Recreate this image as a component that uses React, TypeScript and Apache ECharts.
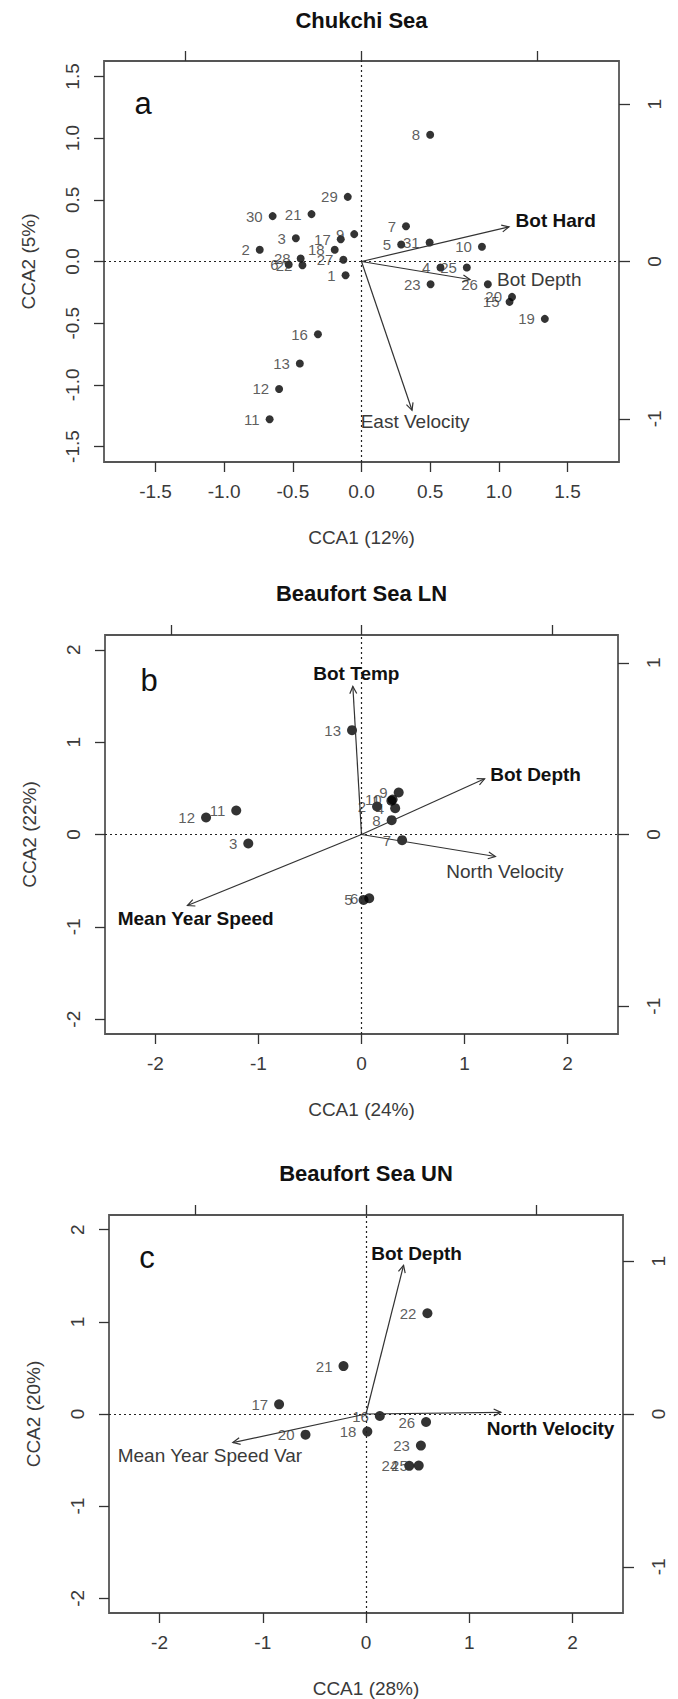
import React, { useEffect, useRef } from 'react';
import * as echarts from 'echarts';

// ---------- Panel a: Chukchi Sea ----------
const A_IDS = ['8', '29', '30', '21', '7', '3', '17', '9', '5', '31', '10', '2', '18', '28', '27', '6', '22', '1', '4', '25', '23', '26', '20', '15', '19', '16', '13', '12', '11'];
const A_X = [0.50, -0.10, -0.647, -0.364, 0.324, -0.478, -0.151, -0.053, 0.289, 0.496, 0.877, -0.741, -0.195, -0.443, -0.132, -0.53, -0.43, -0.116, 0.575, 0.767, 0.503, 0.920, 1.096, 1.078, 1.335, -0.317, -0.449, -0.600, -0.669];
const A_Y = [1.027, 0.524, 0.368, 0.384, 0.286, 0.189, 0.181, 0.222, 0.138, 0.154, 0.119, 0.095, 0.095, 0.024, 0.014, -0.025, -0.03, -0.111, -0.049, -0.049, -0.184, -0.184, -0.287, -0.327, -0.465, -0.590, -0.827, -1.033, -1.279];
const A_VARS = ['Bot Hard', 'Bot Depth', 'East Velocity'];
const A_VX = [1.074, 0.79, 0.368];
const A_VY = [0.281, -0.146, -1.206];
const A_VBOLD = [true, false, false];
const A_LX = [1.414, 1.294, 0.39];
const A_LY = [0.335, -0.146, -1.293];
const A_XTICKS = [-1.5, -1.0, -0.5, 0, 0.5, 1.0, 1.5];
const A_YTICKS = [-1.5, -1.0, -0.5, 0, 0.5, 1.0, 1.5];

// ---------- Panel b: Beaufort Sea LN ----------
const B_IDS = ['13', '12', '11', '3', '9', '1', '10', '2', '4', '8', '7', '5', '6'];
const B_X = [-0.092, -1.509, -1.216, -1.099, 0.361, 0.29, 0.302, 0.151, 0.327, 0.293, 0.394, 0.02, 0.075];
const B_Y = [1.130, 0.184, 0.260, -0.097, 0.455, 0.365, 0.379, 0.303, 0.285, 0.155, -0.061, -0.708, -0.69];
const B_VARS = ['Bot Temp', 'Bot Depth', 'North Velocity', 'Mean Year Speed'];
const B_VX = [-0.084, 1.195, 1.30, -1.69];
const B_VY = [1.603, 0.603, -0.238, -0.769];
const B_VBOLD = [true, true, false, true];
const B_LX = [-0.05, 1.69, 1.392, -1.61];
const B_LY = [1.747, 0.646, -0.397, -0.914];
const B_XTICKS = [-2, -1, 0, 1, 2];
const B_YTICKS = [-2, -1, 0, 1, 2];

// ---------- Panel c: Beaufort Sea UN ----------
const C_IDS = ['22', '21', '17', '16', '26', '18', '20', '23', '24', '25'];
const C_X = [0.595, -0.218, -0.842, 0.134, 0.582, 0.013, -0.586, 0.532, 0.419, 0.511];
const C_Y = [1.094, 0.520, 0.105, -0.022, -0.087, -0.191, -0.224, -0.343, -0.563, -0.560];
const C_VARS = ['Bot Depth', 'North Velocity', 'Mean Year Speed Var'];
const C_VX = [0.364, 1.307, -1.29];
const C_VY = [1.614, 0.018, -0.31];
const C_VBOLD = [true, true, false];
const C_LX = [0.49, 1.788, -1.512];
const C_LY = [1.74, -0.159, -0.455];
const C_XTICKS = [-2, -1, 0, 1, 2];
const C_YTICKS = [-2, -1, 0, 1, 2];

const ARROW_TICKS = [-1, 0, 1];

const FONT = '"Liberation Sans", Arial, sans-serif';

const PANELS = [
  {
    title: 'Chukchi Sea', letter: 'a', xName: 'CCA1 (12%)', yName: 'CCA2 (5%)',
    ids: A_IDS, xs: A_X, ys: A_Y, vars: A_VARS, vx: A_VX, vy: A_VY, vb: A_VBOLD, lx: A_LX, ly: A_LY,
    xticks: A_XTICKS, yticks: A_YTICKS, dec: 1,
    grid: { left: 104, top: 61, width: 515, height: 401 },
    xr: 1.875, yr: 1.625, topR: 1.463, rightR: 1.274,
    titleY: 20, letterX: 143, letterY: 103, sym: 8,
  },
  {
    title: 'Beaufort Sea LN', letter: 'b', xName: 'CCA1 (24%)', yName: 'CCA2 (22%)',
    ids: B_IDS, xs: B_X, ys: B_Y, vars: B_VARS, vx: B_VX, vy: B_VY, vb: B_VBOLD, lx: B_LX, ly: B_LY,
    xticks: B_XTICKS, yticks: B_YTICKS, dec: 0,
    grid: { left: 105, top: 635, width: 513, height: 399 },
    xr: 2.49, yr: 2.16, topR: 1.345, rightR: 1.162,
    titleY: 593, letterX: 149, letterY: 680, sym: 10,
  },
  {
    title: 'Beaufort Sea UN', letter: 'c', xName: 'CCA1 (28%)', yName: 'CCA2 (20%)',
    ids: C_IDS, xs: C_X, ys: C_Y, vars: C_VARS, vx: C_VX, vy: C_VY, vb: C_VBOLD, lx: C_LX, ly: C_LY,
    xticks: C_XTICKS, yticks: C_YTICKS, dec: 0,
    grid: { left: 109, top: 1215, width: 514, height: 398 },
    xr: 2.49, yr: 2.16, topR: 1.509, rightR: 1.302,
    titleY: 1173, letterX: 147, letterY: 1257, sym: 10,
  },
];

function buildOption() {
  const grid: any[] = [];
  const xAxis: any[] = [];
  const yAxis: any[] = [];
  const series: any[] = [];
  const graphic: any[] = [];
  const tickStyle = { color: '#333', width: 1.3 };
  const labelBase = { fontSize: 19, color: '#3a3a3a', fontFamily: FONT };

  PANELS.forEach((p, i) => {
    grid.push({ ...p.grid, show: true, borderColor: '#555', borderWidth: 1.8, backgroundColor: 'transparent', containLabel: false });
    const fmt = (v: number) => (p.dec ? v.toFixed(p.dec) : String(Math.round(v)));
    // bottom x
    xAxis.push({
      type: 'value', gridIndex: i, position: 'bottom', min: -p.xr, max: p.xr,
      axisLine: { show: false, onZero: false }, splitLine: { show: false },
      axisTick: { show: true, length: 10, customValues: p.xticks, lineStyle: tickStyle },
      axisLabel: { show: true, customValues: p.xticks, formatter: fmt, margin: 20, ...labelBase },
      name: p.xName, nameLocation: 'middle', nameGap: 66, nameTextStyle: { ...labelBase },
    });
    // top x (arrow scale)
    xAxis.push({
      type: 'value', gridIndex: i, position: 'top', min: -p.topR, max: p.topR,
      axisLine: { show: false, onZero: false }, splitLine: { show: false },
      axisTick: { show: true, length: 10, customValues: ARROW_TICKS, lineStyle: tickStyle },
      axisLabel: { show: false },
    });
    // left y
    yAxis.push({
      type: 'value', gridIndex: i, position: 'left', min: -p.yr, max: p.yr,
      axisLine: { show: false, onZero: false }, splitLine: { show: false },
      axisTick: { show: true, length: 10, customValues: p.yticks, lineStyle: tickStyle },
      axisLabel: { show: true, customValues: p.yticks, formatter: fmt, rotate: 90, margin: 22, ...labelBase },
      name: p.yName, nameLocation: 'middle', nameGap: 66, nameRotate: 90, nameTextStyle: { ...labelBase },
    });
    // right y (arrow scale)
    yAxis.push({
      type: 'value', gridIndex: i, position: 'right', min: -p.rightR, max: p.rightR,
      axisLine: { show: false, onZero: false }, splitLine: { show: false },
      axisTick: { show: true, length: 11, customValues: ARROW_TICKS, lineStyle: tickStyle },
      axisLabel: { show: true, customValues: ARROW_TICKS, formatter: (v: number) => String(Math.round(v)), rotate: 90, margin: 26, ...labelBase },
    });

    series.push({
      type: 'scatter', xAxisIndex: 2 * i, yAxisIndex: 2 * i,
      data: p.ids.map((id, k) => ({ name: id, value: [p.xs[k], p.ys[k]] })),
      symbol: 'circle', symbolSize: p.sym, itemStyle: { color: '#000' },
      label: { show: true, position: 'left', distance: 6, formatter: '{b}', fontSize: 15, color: '#333', fontFamily: FONT },
      markLine: {
        silent: true, symbol: ['none', 'none'], label: { show: false },
        lineStyle: { type: [2, 3], color: '#222', width: 1.2 },
        data: [{ xAxis: 0 }, { yAxis: 0 }],
      },
      z: 3,
    });

    series.push({
      type: 'custom', xAxisIndex: 2 * i, yAxisIndex: 2 * i,
      data: p.vars.map((v, k) => [p.vx[k], p.vy[k], p.lx[k], p.ly[k]]),
      encode: { x: 0, y: 1 },
      z: 4,
      renderItem: (params: any, api: any) => {
        const k = params.dataIndex;
        const p0 = api.coord([0, 0]);
        const p1 = api.coord([api.value(0), api.value(1)]);
        const lp = api.coord([api.value(2), api.value(3)]);
        const ang = Math.atan2(p1[1] - p0[1], p1[0] - p0[0]);
        const L = 8, a = Math.PI / 7;
        const h1 = [p1[0] - L * Math.cos(ang - a), p1[1] - L * Math.sin(ang - a)];
        const h2 = [p1[0] - L * Math.cos(ang + a), p1[1] - L * Math.sin(ang + a)];
        const bold = p.vb[k];
        return {
          type: 'group',
          children: [
            { type: 'line', shape: { x1: p0[0], y1: p0[1], x2: p1[0], y2: p1[1] }, style: { stroke: '#333', lineWidth: 1.2 } },
            { type: 'polyline', shape: { points: [h1, p1, h2] }, style: { stroke: '#333', lineWidth: 1.2, fill: null } },
            {
              type: 'text', x: lp[0], y: lp[1],
              style: {
                text: p.vars[k], fontSize: 19, fontWeight: bold ? 'bold' : 'normal', fontFamily: FONT,
                fill: bold ? '#111' : '#3a3a3a', align: 'center', verticalAlign: 'middle',
                textAlign: 'center', textVerticalAlign: 'middle',
              },
            },
          ],
        };
      },
    });

    const cx = p.grid.left + p.grid.width / 2;
    graphic.push({
      type: 'text', x: cx, y: p.titleY,
      style: { text: p.title, fontSize: 22, fontWeight: 'bold', fontFamily: FONT, fill: '#111', align: 'center', verticalAlign: 'middle', textAlign: 'center', textVerticalAlign: 'middle' },
    });
    graphic.push({
      type: 'text', x: p.letterX, y: p.letterY,
      style: { text: p.letter, fontSize: 31, fontFamily: FONT, fill: '#111', align: 'center', verticalAlign: 'middle', textAlign: 'center', textVerticalAlign: 'middle' },
    });
  });

  return {
    animation: false,
    backgroundColor: '#fff',
    textStyle: { fontFamily: FONT },
    grid, xAxis, yAxis, series, graphic,
  };
}

export default function App() {
  const ref = useRef<HTMLDivElement>(null);
  useEffect(() => {
    document.body.style.margin = '0';
    const chart = echarts.init(ref.current as HTMLDivElement, null, { renderer: 'svg' });
    chart.setOption(buildOption() as any);
    return () => chart.dispose();
  }, []);
  return <div ref={ref} style={{ width: 678, height: 1699 }} />;
}
